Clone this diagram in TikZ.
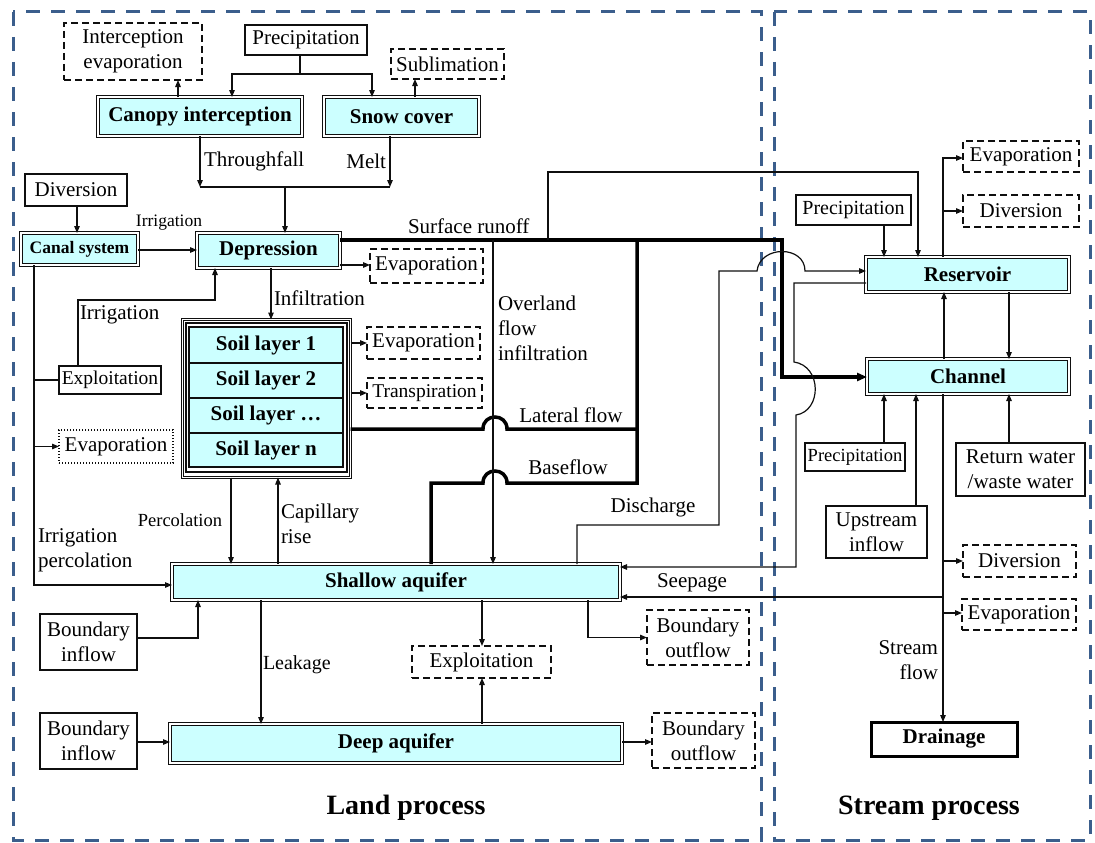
\documentclass[tikz,border=0pt]{standalone}
\usepackage{fontspec}
\setmainfont{Liberation Serif}
\usetikzlibrary{arrows.meta,calc}
\definecolor{cyanfill}{RGB}{204,255,255}
\definecolor{borderblue}{RGB}{59,94,140}
\definecolor{ink}{RGB}{15,15,15}
\newcommand\fsN{\fontsize{21}{25}\selectfont}
\newcommand\fsS{\fontsize{17.5}{21}\selectfont}
\newcommand\fsP{\fontsize{18.5}{22}\selectfont}
\newcommand\fsM{\fontsize{19.5}{23}\selectfont}
\newcommand\fsL{\fontsize{28}{32}\selectfont}
\begin{document}
\begin{tikzpicture}[x=1pt,y=-1pt,
  base/.style={inner sep=0pt,outer sep=0pt,align=center,font=\fsN,text=black},
  plain/.style={base,draw=ink,line width=1.2pt,fill=white},
  dbox/.style={plain,dash pattern=on 7pt off 4pt,line width=1.4pt},
  dotbox/.style={plain,dash pattern=on 1.4pt off 1.6pt,line width=1.2pt},
  store/.style={base,font=\fsN\bfseries,fill=cyanfill,draw=ink,line width=1.3pt,double=white,double distance=1.4pt},
  layerbox/.style={base,font=\fsN\bfseries,fill=cyanfill,draw=ink,line width=1.2pt,minimum width=154pt},
  lbl/.style={base},
  arr/.style={draw=ink,line width=1.2pt,-{Triangle[length=7pt,width=5.5pt]}},
  ln/.style={draw=ink,line width=1.2pt},
  flow/.style={draw=black,line width=3.5pt},
  region/.style={draw=borderblue,line width=3pt,dash pattern=on 14pt off 11pt},
]
\useasboundingbox (0,0) rectangle (1095,843);
% regions
\draw[region] (13,12) rectangle (761,840);
\draw[region] (774,12) rectangle (1090,840);

% ---- land nodes
\node[dbox,minimum width=138pt,minimum height=57pt] (ievap) at (133,51.5) {Interception\\evaporation};
\node[plain,minimum width=122pt,minimum height=30pt] (prec1) at (306,40) {Precipitation};
\node[dbox,minimum width=113pt,minimum height=30pt] (subl) at (447.5,64) {Sublimation};
\node[store,minimum width=204pt,minimum height=39pt] (canopy) at (200,116.5) {Canopy interception};
\node[store,minimum width=155pt,minimum height=39pt] (snow) at (401.5,116.5) {Snow cover};
\node[plain,minimum width=102pt,minimum height=32pt] (div1) at (76,190) {Diversion};
\node[store,font=\fsS\bfseries,minimum width=117pt,minimum height=32pt] (canal) at (79.5,249) {Canal system};
\node[store,minimum width=143pt,minimum height=35pt] (depr) at (268.5,250.5) {Depression};
\node[dbox,minimum width=113pt,minimum height=34pt] (evap1) at (426.5,266) {Evaporation};

\node[base,draw=ink,line width=1.2pt,double=white,double distance=1.3pt,minimum width=168pt,minimum height=158pt] (soil) at (266.5,398.5) {};
\node[base,draw=ink,line width=1.2pt,minimum width=161pt,minimum height=149pt] (soilin) at (266.5,397.5) {};
\node[layerbox,minimum height=36pt] (l1) at (266,345) {Soil layer 1};
\node[layerbox,minimum height=35pt] (l2) at (266,380.5) {Soil layer 2};
\node[layerbox,minimum height=35pt] (l3) at (266,415.5) {Soil layer …};
\node[layerbox,minimum height=34pt] (l4) at (266,450) {Soil layer n};

\node[dbox,minimum width=113pt,minimum height=32pt] (evap2) at (423.5,343) {Evaporation};
\node[dbox,font=\fsM,minimum width=115pt,minimum height=30pt] (transp) at (424.5,393) {Transpiration};
\node[plain,font=\fsM,minimum width=102pt,minimum height=28pt] (expl1) at (110,380) {Exploitation};
\node[dotbox,minimum width=114pt,minimum height=33pt] (evap3) at (116,446.5) {Evaporation};

\node[store,minimum width=448pt,minimum height=36pt] (shallow) at (396,582) {Shallow aquifer};
\node[plain,minimum width=97pt,minimum height=56pt] (bin1) at (88.5,642) {Boundary\\inflow};
\node[dbox,minimum width=139pt,minimum height=32pt] (expl2) at (481.5,662) {Exploitation};
\node[dbox,minimum width=102pt,minimum height=55pt] (bout1) at (698,637.5) {Boundary\\outflow};
\node[store,minimum width=452pt,minimum height=39pt] (deep) at (396,743.5) {Deep aquifer};
\node[plain,minimum width=97pt,minimum height=56pt] (bin2) at (88.5,741) {Boundary\\inflow};
\node[dbox,minimum width=103pt,minimum height=55pt] (bout2) at (703.5,740.5) {Boundary\\outflow};

% ---- stream nodes
\node[dbox,minimum width=116pt,minimum height=31pt] (evapR1) at (1021,156.5) {Evaporation};
\node[dbox,minimum width=116pt,minimum height=32pt] (divR) at (1021,211) {Diversion};
\node[plain,font=\fontsize{20}{24}\selectfont,minimum width=115pt,minimum height=30pt] (precR1) at (853.5,210) {Precipitation};
\node[store,minimum width=203pt,minimum height=35pt] (res) at (967.5,274.5) {Reservoir};
\node[store,minimum width=202pt,minimum height=35pt] (chan) at (968,376.5) {Channel};
\node[plain,font=\fsP,minimum width=100pt,minimum height=28pt] (precR2) at (855,457) {Precipitation};
\node[plain,minimum width=101pt,minimum height=52pt] (upin) at (876.5,532) {Upstream\\inflow};
\node[plain,minimum width=129pt,minimum height=53pt] (retw) at (1020.5,469.5) {Return water\\/waste water};
\node[dbox,minimum width=113pt,minimum height=32pt] (divR2) at (1019.5,561) {Diversion};
\node[dbox,minimum width=114pt,minimum height=31pt] (evapR2) at (1019,614.5) {Evaporation};
\node[base,font=\fsN\bfseries,draw=black,line width=3pt,minimum width=146pt,minimum height=34pt] (drain) at (944,739) {Drainage};

% ---- connectors (top)
\coordinate (pj) at (300,74);
\draw[ln] (prec1.south -| pj) -- (pj);
\draw[arr] (pj) -| (canopy.north -| 232,0);
\draw[arr] (pj) -| (snow.north -| 372,0);
\draw[arr] (canopy.north -| 178,0) -- (ievap.south -| 178,0);
\draw[arr] (snow.north -| 415,0) -- (subl.south -| 415,0);
\coordinate (tf) at (200,187);
\coordinate (ml) at (390,187);
\coordinate (tj) at (285,187);
\draw[arr] (canopy.south) -- (tf);
\draw[arr] (snow.south -| ml) -- (ml);
\draw[ln] (tf) -- (ml);
\draw[arr] (tj) -- (depr.north -| tj);

\draw[arr] (div1.south -| 77,0) -- (canal.north -| 77,0);
\draw[arr] (canal.east |- 0,250) -- (depr.west |- 0,250);
\draw[arr] (depr.east |- 0,265) -- (evap1.west |- 0,265);
\draw[arr] (depr.south -| 271,0) -- (soil.north -| 271,0);
\draw[arr] (expl1.north -| 78,0) |- (215,300) -- (depr.south -| 215,0);

\draw[arr] (canal.south -| 34,0) |- (shallow.west |- 0,585);
\draw[ln] (expl1.west -| 34,0) -- (expl1.west);
\draw[arr] (evap3.west -| 34,0) -- (evap3.west);

\draw[arr] (soil.east |- evap2.west) -- (evap2.west);
\draw[arr] (soil.east |- transp.west) -- (transp.west);

\draw[arr] (soil.south -| 231,0) -- (shallow.north -| 231,0);
\draw[arr] (shallow.north -| 278,0) -- (soil.south -| 278,0);
\draw[arr] (bin1.east |- 0,638) -| (shallow.south -| 198,0);
\draw[arr] (shallow.south -| 261,0) -- (deep.north -| 261,0);
\draw[arr] (shallow.south -| 482,0) -- (expl2.north -| 482,0);
\draw[arr] (deep.north -| 482,0) -- (expl2.south -| 482,0);
\draw[arr] (shallow.south -| 588,0) |- (bout1.west);
\draw[arr] (bin2.east |- 0,742) -- (deep.west |- 0,742);
\draw[arr] (deep.east |- 0,742) -- (bout2.west |- 0,742);

% ---- thick flows
\draw[flow,-{Triangle[length=10pt,width=8pt]}] (depr.east |- 0,240) -- (782,240) -- (782,377) -- (chan.west |- 0,377);
\draw[flow] (shallow.north -| 431,0) -- (431,483) -- (483,483) .. controls (483,467) and (507,467) .. (507,483) -- (637,483) -- (637,240);
\draw[flow] (soil.east |- 0,429) -- (483,429) .. controls (483,413) and (507,413) .. (507,429) -- (637,429);

\coordinate (ov) at (493,240);
\draw[arr] (ov) -- (shallow.north -| ov);
\coordinate (sr) at (548,240);
\draw[arr] (sr) |- (918,172) -- (res.north -| 918,0);
\draw[arr] (shallow.north -| 577,0) |- (719,525) |- (757,271) .. controls (760,245) and (805,245) .. (805,271) -- (res.west |- 0,271);
\draw[arr] (res.west |- 0,283) -| (794,362) .. controls (822,366) and (822,411) .. (796,415) |- (shallow.east |- 0,567);
\coordinate (sp) at (943,597);
\draw[arr] (sp) -- (shallow.east |- sp);

% ---- stream connectors
\draw[arr] (chan.south -| 943,0) -- (drain.north -| 943,0);
\draw[arr] (divR2.west -| 943,0) -- (divR2.west);
\draw[arr] (943,613) -- (evapR2.west |- 0,613);
\draw[arr] (precR1.south -| 884,0) -- (res.north -| 884,0);
\draw[arr] (res.north -| 943,0) |- (evapR1.west |- 0,158);
\draw[arr] (943,211) -- (divR.west |- 0,211);
\draw[arr] (chan.north -| 944,0) -- (res.south -| 944,0);
\draw[arr] (res.south -| 1009,0) -- (chan.north -| 1009,0);
\draw[arr] (precR2.north -| 884,0) -- (chan.south -| 884,0);
\draw[arr] (upin.north -| 916,0) -- (chan.south -| 916,0);
\draw[arr] (retw.north -| 1009,0) -- (chan.south -| 1009,0);

% ---- labels
\node[lbl,anchor=west] (tThrough) at (204,161) {Throughfall};
\node[lbl,anchor=east] (tMelt) at (386,161) {Melt};
\node[lbl,anchor=west] (tSurf) at (408,226) {Surface runoff};
\node[lbl,font=\fsS] (tIrr1) at (169,223) {Irrigation};
\node[lbl,anchor=west] (tInf) at (274,298) {Infiltration};
\node[lbl,anchor=west] (tIrr2) at (80,315) {Irrigation};
\node[lbl,anchor=west,align=left] (tOver) at (498,328) {Overland\\flow\\infiltration};
\node[lbl] (tLat) at (571,415) {Lateral flow};
\node[lbl] (tBase) at (568,467) {Baseflow};
\node[lbl] (tDis) at (653,507) {Discharge};
\node[lbl,font=\fsP] (tPerc) at (180,520) {Percolation};
\node[lbl,anchor=west,align=left] (tCap) at (281,524) {Capillary\\rise};
\node[lbl,anchor=west,align=left] (tIrrP) at (38,550) {Irrigation\\percolation};
\node[lbl,anchor=west,font=\fontsize{20}{24}\selectfont] (tLeak) at (263,665) {Leakage};
\node[lbl] (tSeep) at (692,583) {Seepage};
\node[lbl,anchor=east,align=right] (tStream) at (938,660) {Stream\\flow};
\node[lbl,font=\fsL\bfseries] (tLand) at (406,808) {Land process};
\node[lbl,font=\fsL\bfseries] (tStreamP) at (929,808) {Stream process};
\end{tikzpicture}
\end{document}
